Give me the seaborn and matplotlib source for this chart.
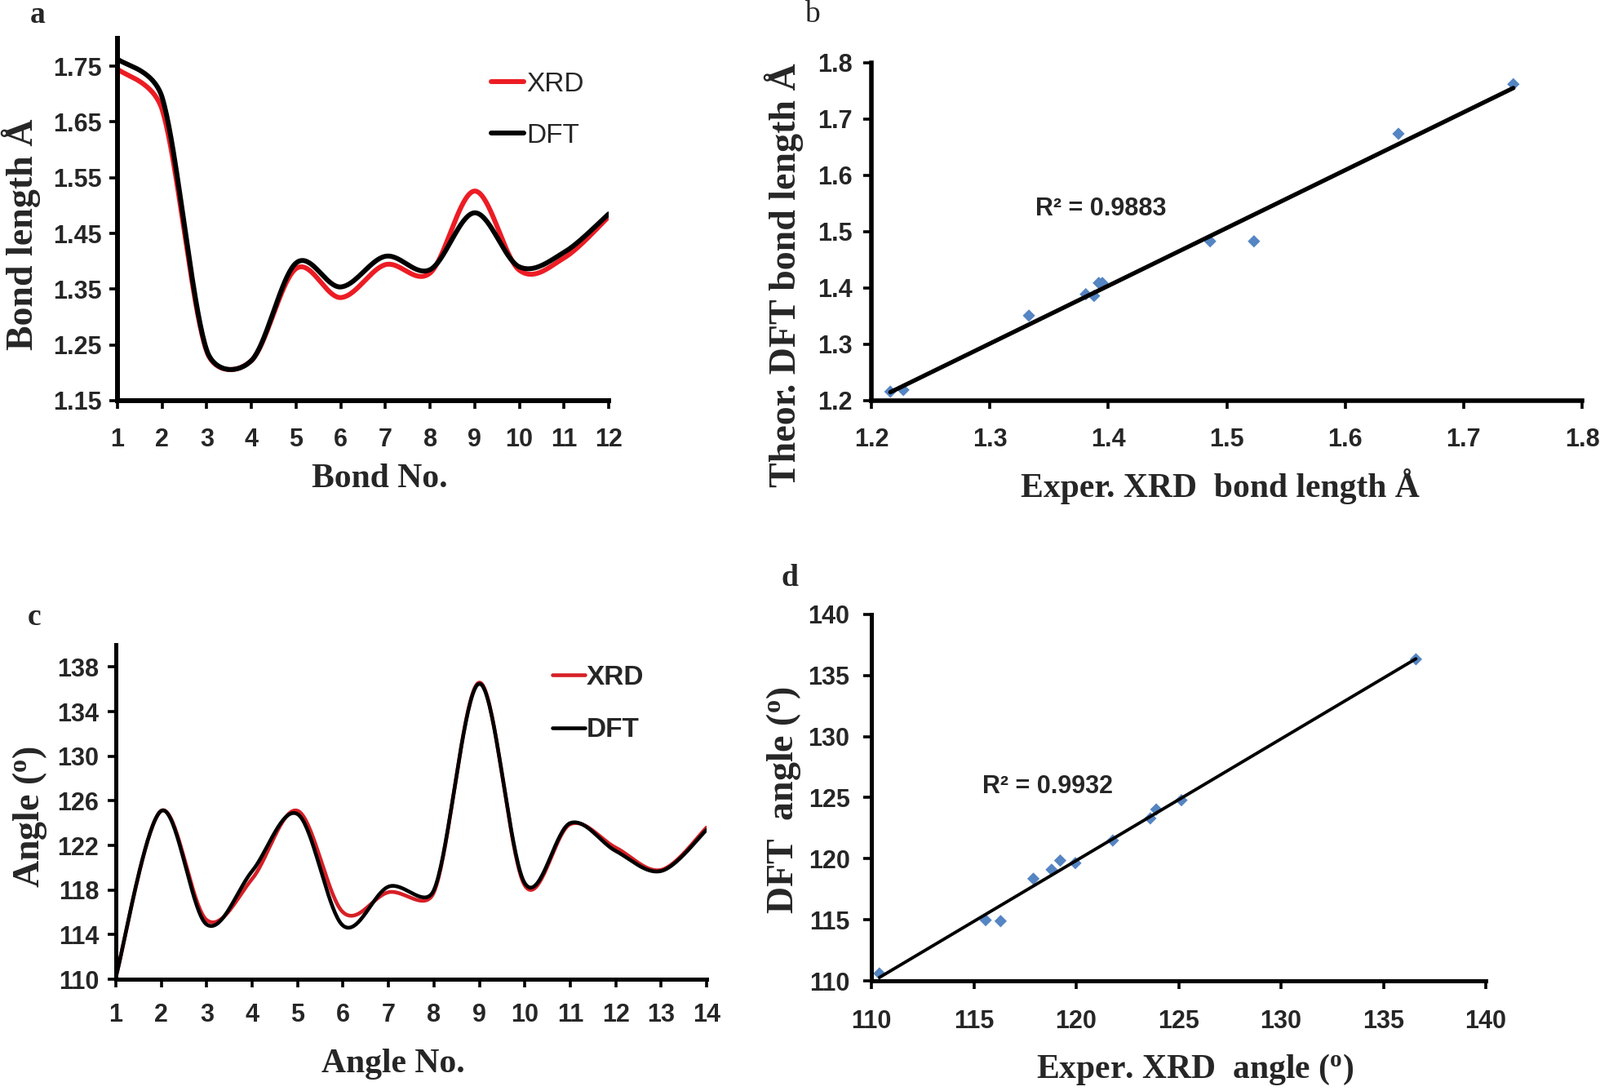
import numpy as np
import matplotlib
matplotlib.use("Agg")
import matplotlib.pyplot as plt
import seaborn as sns

# ---------- data ----------
bond_no = [1, 2, 3, 4, 5, 6, 7, 8, 9, 10, 11, 12]
bond_xrd = [1.745, 1.672, 1.238, 1.222, 1.387, 1.335, 1.394, 1.379, 1.526, 1.384, 1.406, 1.480]
bond_dft = [1.763, 1.694, 1.240, 1.222, 1.397, 1.354, 1.409, 1.385, 1.487, 1.390, 1.416, 1.485]

angle_no = [1, 2, 3, 4, 5, 6, 7, 8, 9, 10, 11, 12, 13, 14]
angle_xrd = [110.2, 125.1, 115.3, 119.0, 125.1, 116.0, 117.8, 117.8, 136.6, 118.4, 123.9, 121.8, 119.8, 123.6]
angle_dft = [110.2, 125.1, 114.9, 119.7, 124.8, 114.8, 118.3, 118.0, 136.5, 118.6, 124.0, 121.5, 119.7, 123.4]

# correlation panels (points as plotted)
corr_bond_xrd = [1.216, 1.227, 1.333, 1.381, 1.388, 1.392, 1.395, 1.486, 1.523, 1.645, 1.742]
corr_bond_dft = [1.216, 1.219, 1.351, 1.389, 1.386, 1.409, 1.409, 1.483, 1.483, 1.674, 1.762]
corr_angle_xrd = [110.39, 115.58, 116.31, 117.91, 118.80, 119.22, 119.96, 121.79, 123.62, 123.91, 125.14, 136.59]
corr_angle_dft = [110.60, 114.97, 114.89, 118.36, 119.10, 119.85, 119.64, 121.49, 123.30, 124.03, 124.79, 136.33]

r2_bond = "R² = 0.9883"
r2_angle = "R² = 0.9932"

W, H = 1961, 1337
RED = "#ec1c24"
BLUE = "#5585c2"
SERIF = ["Liberation Serif", "DejaVu Serif"]
SANS = ["Liberation Sans Narrow", "Liberation Sans", "DejaVu Sans"]


def smooth(x, y, sx, sy, n=40):
    """Excel-like smoothed line: Bezier segments, control arms 1/6 of the
    neighbour chord, shortened where the chord is long (done in pixel space)."""
    p = np.column_stack([np.asarray(x, float) * sx, np.asarray(y, float) * sy])
    q = np.vstack([p[0], p, p[-1]])
    t = np.linspace(0, 1, n, endpoint=False)[:, None]
    out = []
    for i in range(1, len(q) - 2):
        p0, p1, p2, p3 = q[i - 1], q[i], q[i + 1], q[i + 2]
        seg = np.linalg.norm(p2 - p1)
        d02 = np.linalg.norm(p2 - p0)
        d13 = np.linalg.norm(p3 - p1)
        f1 = 1 / 6 if d02 == 0 else min(1 / 6, 0.5 * seg / d02)
        f2 = 1 / 6 if d13 == 0 else min(1 / 6, 0.5 * seg / d13)
        c1 = p1 + f1 * (p2 - p0)
        c2 = p2 - f2 * (p3 - p1)
        out.append((1 - t) ** 3 * p1 + 3 * (1 - t) ** 2 * t * c1 + 3 * (1 - t) * t ** 2 * c2 + t ** 3 * p2)
    out.append(p[-1:])
    out = np.vstack(out)
    return out[:, 0] / sx, out[:, 1] / sy


def ax_at(fig, x0, y0, x1, y1):
    # pixel box (left, top, right, bottom) -> axes
    return fig.add_axes([x0 / W, 1 - y1 / H, (x1 - x0) / W, (y1 - y0) / H])


def style_axis(ax, lw, xpad, ypad):
    sns.despine(ax=ax)
    for s in ("left", "bottom"):
        ax.spines[s].set_linewidth(lw)
        ax.spines[s].set_color("black")
    ax.tick_params(axis="both", direction="out", length=7, width=2.6, color="black")
    ax.tick_params(axis="x", pad=xpad)
    ax.tick_params(axis="y", pad=ypad)
    for lab in ax.get_xticklabels() + ax.get_yticklabels():
        lab.set_family(SANS)
        lab.set_fontsize(22)
        lab.set_fontweight("bold")
    ax.set_xlabel("")
    ax.set_ylabel("")


def ftext(x, y, s, **kw):
    fig.text(x / W, 1 - y / H, s, ha="center", va="center", **kw)


sns.set_style("ticks")
plt.rcParams["font.family"] = SANS
plt.rcParams["mathtext.fontset"] = "stix"

fig = plt.figure(figsize=(W / 100, H / 100), dpi=100)

# ---------- a: bond lengths ----------
ax = ax_at(fig, 144, 47, 746, 491)
kx, ky = 602 / 11, 444 / 0.65
cx, cy = smooth(bond_no, bond_xrd, kx, ky)
sns.lineplot(x=cx, y=cy, ax=ax, color=RED, linewidth=4.3, sort=False, estimator=None, label="XRD")
cx, cy = smooth(bond_no, bond_dft, kx, ky)
sns.lineplot(x=cx, y=cy, ax=ax, color="black", linewidth=4.3, sort=False, estimator=None, label="DFT")
ax.set_xlim(1, 12)
ax.set_ylim(1.15, 1.80)
ax.set_xticks(bond_no)
ax.set_yticks([1.15, 1.25, 1.35, 1.45, 1.55, 1.65, 1.75])
ax.set_yticklabels(["1.15", "1.25", "1.35", "1.45", "1.55", "1.65", "1.75"])
style_axis(ax, 4.3, 17, 7)
ax.legend(loc="upper left", bbox_to_anchor=(602 / W, 1 - 88 / H), bbox_transform=fig.transFigure,
          frameon=False, borderpad=0, borderaxespad=0, handlelength=1.2, handletextpad=0.1,
          labelspacing=0.95, prop={"family": SANS, "size": 24})

# ---------- b: bond correlation ----------
ax = ax_at(fig, 1068, 77, 1939, 491)
sns.regplot(x=corr_bond_xrd, y=corr_bond_dft, ax=ax, ci=None, scatter=False,
            line_kws={"color": "black", "linewidth": 3.8})
sns.scatterplot(x=corr_bond_xrd, y=corr_bond_dft, ax=ax, marker="D", s=60, color=BLUE,
                edgecolor="none", zorder=1)
ax.set_xlim(1.2, 1.8)
ax.set_ylim(1.2, 1.8)
ax.set_xticks([1.2, 1.3, 1.4, 1.5, 1.6, 1.7, 1.8])
ax.set_yticks([1.2, 1.3, 1.4, 1.5, 1.6, 1.7, 1.8])
style_axis(ax, 4.0, 17, 10)
ftext(1349, 256, r2_bond, fontsize=22, fontweight="bold", family=SANS)

# ---------- c: bond angles ----------
ax = ax_at(fig, 142, 790, 866, 1200)
kx, ky = 724 / 13, 410 / 30
cx, cy = smooth(angle_no, angle_xrd, kx, ky)
sns.lineplot(x=cx, y=cy, ax=ax, color="#d61f26", linewidth=3.3, sort=False, estimator=None, label="XRD")
cx, cy = smooth(angle_no, angle_dft, kx, ky)
sns.lineplot(x=cx, y=cy, ax=ax, color="black", linewidth=3.3, sort=False, estimator=None, label="DFT")
ax.set_xlim(1, 14)
ax.set_ylim(110, 140)
ax.set_xticks(angle_no)
ax.set_yticks(np.arange(110, 139, 4))
style_axis(ax, 3.6, 14, 8)
ax.legend(loc="upper left", bbox_to_anchor=(677 / W, 1 - 815 / H), bbox_transform=fig.transFigure,
          frameon=False, borderpad=0, borderaxespad=0, handlelength=1.2, handletextpad=0.05,
          labelspacing=1.0, prop={"family": SANS, "size": 24, "weight": "bold"})

# ---------- d: angle correlation ----------
ax = ax_at(fig, 1068, 753, 1821, 1202)
sns.regplot(x=corr_angle_xrd, y=corr_angle_dft, ax=ax, ci=None, scatter=False,
            line_kws={"color": "black", "linewidth": 2.8})
sns.scatterplot(x=corr_angle_xrd, y=corr_angle_dft, ax=ax, marker="D", s=60, color=BLUE,
                edgecolor="none", zorder=1)
ax.set_xlim(110, 140)
ax.set_ylim(110, 140)
ax.set_xticks(np.arange(110, 141, 5))
ax.set_yticks(np.arange(110, 141, 5))
style_axis(ax, 3.6, 18, 12)
ftext(1284, 964, r2_angle, fontsize=22, fontweight="bold", family=SANS)

# ---------- axis titles and panel letters ----------
lab = dict(family=SERIF, fontweight="bold")
ftext(465, 587, "Bond No.", fontsize=30, **lab)
ftext(1495, 596, "Exper. XRD  bond length Å", fontsize=30, **lab)
ftext(482, 1304, "Angle No.", fontsize=30, **lab)
ftext(1465, 1311, r"Exper. XRD  angle ($\mathregular{^o}$)", fontsize=30, **lab)
ftext(26, 287, "Bond length Å", fontsize=33, rotation=90, **lab)
ftext(961, 337, "Theor. DFT bond length Å", fontsize=33, rotation=90, **lab)
ftext(37, 1001, r"Angle ($\mathregular{^o}$)", fontsize=33, rotation=90, **lab)
ftext(961, 981, r"DFT  angle ($\mathregular{^o}$)", fontsize=33, rotation=90, **lab)

ftext(46, 19, "a", fontsize=27, family=SERIF, fontweight="bold")
ftext(995, 18, "b", fontsize=27, family=SERIF)
ftext(42, 757, "c", fontsize=27, family=SERIF, fontweight="bold")
ftext(968, 708, "d", fontsize=27, family=SERIF, fontweight="bold")

fig.savefig("out.png", dpi=100, facecolor="white")
